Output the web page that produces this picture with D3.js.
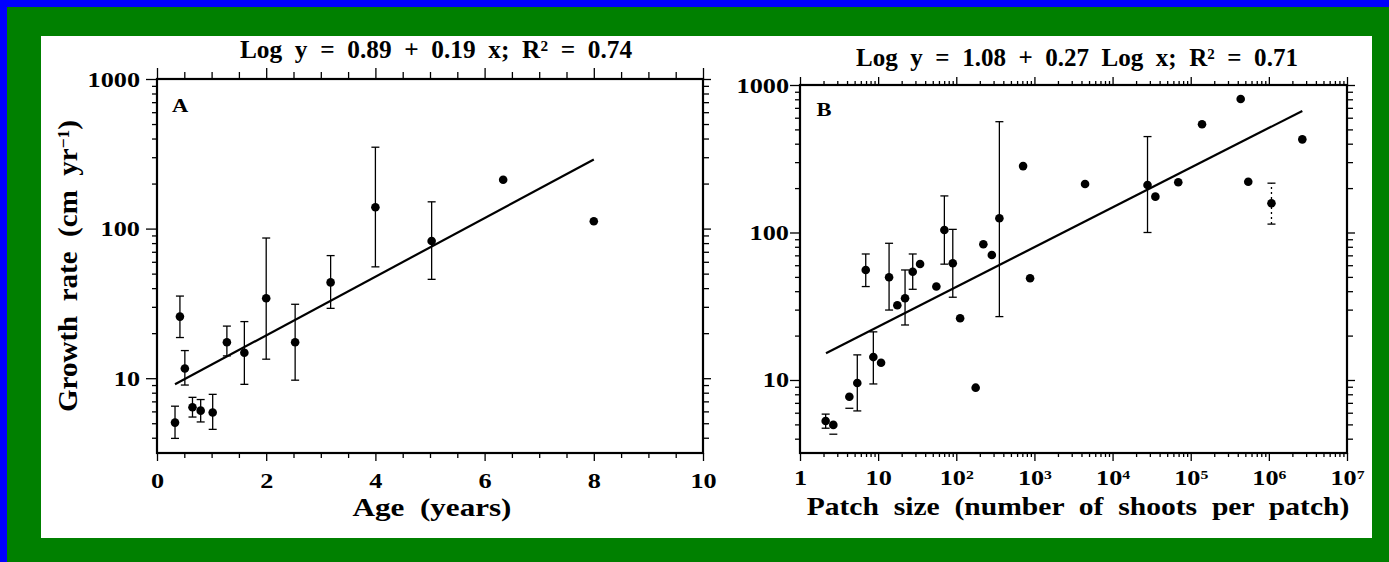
<!DOCTYPE html>
<html>
<head>
<meta charset="utf-8">
<script src="https://cdn.jsdelivr.net/npm/d3@7"></script>
<style>
  body { margin: 0; background: #0000ff; }
  svg { display: block; }
  svg text { font-family: "Liberation Serif", "Times New Roman", Times, serif; font-weight: bold; white-space: pre; }
</style>
</head>
<body>
<svg id="chart" width="1389" height="562"></svg>
<script>
// ---- Panel A: growth rate vs. age ----
const ageYears   = [0.33, 0.42, 0.51, 0.65, 0.80, 1.02, 1.28, 1.60, 2.00, 2.53, 3.18, 4.00, 5.03, 6.34, 8.00];
const ageRate    = [5.05, 25.8, 11.6, 6.4, 6.07, 5.9, 17.4, 14.8, 34.2, 17.4, 43.7, 139, 82.6, 212, 112];
const ageErrLow  = [3.96, 18.7, 9.0, 5.5, 5.1, 4.55, 14.1, 9.1, 13.4, 9.7, 29.3, 55.5, 45.8, null, null];
const ageErrHigh = [6.5, 35.4, 15.3, 7.45, 7.2, 7.8, 22.3, 23.9, 86.5, 31.2, 66, 350, 151, null, null];
const ageFit     = [[0.33, 9.1], [8.0, 290]];
const ageTicks   = [0, 2, 4, 6, 8, 10];

// ---- Panel B: growth rate vs. patch size ----
const patchSize = [2.13, 2.67, 4.28, 5.41, 8.68, 10.9, 6.94, 13.8, 17.6, 22.1, 27.7, 34.4, 55.6, 70.4, 90.2,
                   112, 177, 222, 285, 356, 716, 880, 4446, 28000, 35300, 69300, 139600, 436000, 545000, 1.08e6, 2.68e6];
const patchRate = [5.27, 4.96, 7.7, 9.55, 14.3, 13.1, 55.7, 49.7, 32.1, 35.8, 54.2, 61.1, 43, 104, 61.8,
                   26.2, 8.87, 83.2, 70.3, 125, 282, 49, 213, 210, 175, 219, 542, 804, 221, 158, 428];
const patchErrLow  = [4.71, 4.29, 6.43, 6.17, 9.4, null, 43, 29.8, null, 23.6, 41.2, null, null, 61, 36.4,
                      null, null, null, null, 26.9, null, null, null, 100, null, null, null, null, null, null, null];
const patchErrHigh = [5.87, null, null, 14.8, 21.2, null, 71.5, 84.5, null, 55.7, 71.5, null, null, 177, 105,
                      null, null, null, null, 564, null, null, null, 447, null, null, null, null, null, null, null];
// range shown only as a dotted bar
const patchRangeSize = [1.08e6];
const patchRangeLow  = [114];
const patchRangeHigh = [216];
const patchFit   = [[2.15, 15.2], [2.68e6, 667]];
const patchTicks = [1, 10, 100, 1e3, 1e4, 1e5, 1e6, 1e7];

const rateTicks = [10, 100, 1000];

const svg = d3.select('#chart');
const W = 1389, H = 562;

svg.append('rect').attr('width', W).attr('height', H).attr('fill', '#0000ff');
svg.append('rect').attr('x', 7).attr('y', 7).attr('width', W - 7).attr('height', H - 7).attr('fill', '#008000');
svg.append('rect').attr('x', 41).attr('y', 36).attr('width', 1331).attr('height', 502).attr('fill', '#ffffff');

// Bold serif text, widened horizontally; either a fixed stretch or fitted to a width.
function label(parent, x, y, parts, opts) {
  const size = opts.size || 21;
  const anchor = opts.anchor || 'middle';
  const outer = parent.append('g')
    .attr('transform', `translate(${x},${y}) rotate(${opts.rotate || 0})`);
  const inner = outer.append('g');
  const t = inner.append('text')
    .attr('text-anchor', anchor)
    .attr('font-size', size)
    .attr('fill', '#000');
  const rise = size * 0.3;
  let back = 0;
  parts.forEach(p => {
    const [s, kind] = Array.isArray(p) ? p : [p, null];
    if (kind === 'sup') {
      t.append('tspan').attr('font-size', size * 0.6).attr('dy', -rise).text(s);
      back = rise;
    } else {
      t.append('tspan').attr('dy', back || null).text(s);
      back = 0;
    }
  });
  let s = opts.stretch || 1.25;
  if (opts.width) s = opts.width / t.node().getBBox().width;
  inner.attr('transform', `scale(${s},1)`);
  return outer;
}

const isPow10 = v => Math.abs(Math.log10(v) - Math.round(Math.log10(v))) < 1e-9;

function axis(parent, orient, scale, values, size, tr, labeler) {
  const make = { bottom: d3.axisBottom, top: d3.axisTop, left: d3.axisLeft, right: d3.axisRight }[orient];
  const gen = make(scale).tickValues(values).tickSizeInner(size).tickSizeOuter(0).tickFormat('');
  const g = parent.append('g').attr('transform', `translate(${tr[0]},${tr[1]})`).call(gen);
  g.select('.domain').remove();
  g.selectAll('.tick line').attr('stroke', '#000').attr('stroke-width', 1.3);
  g.selectAll('.tick text').remove();
  if (labeler) g.selectAll('.tick').each(function (d) { labeler(d3.select(this), d); });
  return g;
}

function errorBars(g, xs, lows, highs, xScale, yScale, dotted) {
  xs.forEach((xv, i) => {
    const lo = lows[i], hi = highs[i];
    if (lo == null && hi == null) return;
    const x = xScale(xv);
    const y0 = yScale(lo != null ? lo : hi);
    const y1 = yScale(hi != null ? hi : lo);
    g.append('line').attr('x1', x).attr('x2', x).attr('y1', y0).attr('y2', y1)
      .attr('stroke', '#000').attr('stroke-width', 1.3)
      .attr('stroke-dasharray', dotted ? '2,3' : null);
    [lo, hi].forEach(v => {
      if (v == null) return;
      g.append('line').attr('x1', x - 4).attr('x2', x + 4).attr('y1', yScale(v)).attr('y2', yScale(v))
        .attr('stroke', '#000').attr('stroke-width', 1.3);
    });
  });
}

// ================= Panel A =================
const xA = d3.scaleLinear().domain([0, 10]).range([157, 703]);
const yA = d3.scaleLog().domain([Math.sqrt(10), 1000]).range([453, 79]);
const gA = svg.append('g');
const ageMinor = d3.range(0, 10.01, 0.5).filter(v => v % 2 !== 0);
const rateMinorA = yA.ticks().filter(v => !isPow10(v));

axis(gA, 'bottom', xA, ageMinor, 5, [0, 453]);
axis(gA, 'bottom', xA, ageTicks, 8, [0, 453], (t, d) => label(t, 0, 35, [String(d)], { size: 21 }));
axis(gA, 'top', xA, ageMinor, 7, [0, 79]);
axis(gA, 'top', xA, ageTicks, 11, [0, 79]);
axis(gA, 'left', yA, rateMinorA, 5, [157, 0]);
axis(gA, 'left', yA, rateTicks, 11, [157, 0], (t, d) => label(t, -17, 7, [String(d)], { size: 21, anchor: 'end' }));
axis(gA, 'right', yA, rateMinorA, 6, [703, 0]);
axis(gA, 'right', yA, rateTicks, 8, [703, 0]);

gA.append('rect').attr('x', 157).attr('y', 79).attr('width', 546).attr('height', 374)
  .attr('fill', 'none').attr('stroke', '#000').attr('stroke-width', 2.2);

errorBars(gA, ageYears, ageErrLow, ageErrHigh, xA, yA, false);
gA.append('path').datum(ageFit)
  .attr('d', d3.line().x(d => xA(d[0])).y(d => yA(d[1])))
  .attr('fill', 'none').attr('stroke', '#000').attr('stroke-width', 2.2);
gA.selectAll('circle').data(ageYears).join('circle')
  .attr('cx', d => xA(d)).attr('cy', (d, i) => yA(ageRate[i])).attr('r', 4.3).attr('fill', '#000');

label(gA, 436, 58, ['Log  y  =  0.89  +  0.19  x;  R', ['2', 'sup'], '  =  0.74'], { size: 25, width: 393 });
label(gA, 180, 112, ['A'], { size: 18 });
label(gA, 432, 516, ['Age  (years)'], { size: 25, width: 159 });
label(gA, 77, 266, ['Growth  rate  (cm  yr', ['\u22121', 'sup'], ')'], { size: 28, rotate: -90, width: 292 });

// ================= Panel B =================
const xB = d3.scaleLog().domain([1, 1e7]).range([800, 1347]);
const yB = d3.scaleLog().domain([Math.pow(10, 0.505), 1000]).range([453, 85]);
const gB = svg.append('g');
const patchMinor = xB.ticks().filter(v => !isPow10(v));
const rateMinorB = yB.ticks().filter(v => !isPow10(v));

const patchLabel = d => {
  const e = Math.round(Math.log10(d));
  if (e === 0) return ['1'];
  if (e === 1) return ['10'];
  return ['10', [String(e), 'sup']];
};

axis(gB, 'bottom', xB, patchMinor, 4, [0, 453]);
axis(gB, 'bottom', xB, patchTicks, 8, [0, 453], (t, d) => label(t, 0, 32, patchLabel(d), { size: 21 }));
axis(gB, 'top', xB, patchMinor, 4, [0, 85]);
axis(gB, 'top', xB, patchTicks, 8, [0, 85]);
axis(gB, 'left', yB, rateMinorB, 5, [800, 0]);
axis(gB, 'left', yB, rateTicks, 10, [800, 0], (t, d) => label(t, -11, 7, [String(d)], { size: 21, anchor: 'end' }));
axis(gB, 'right', yB, rateMinorB, 6, [1347, 0]);
axis(gB, 'right', yB, rateTicks, 8, [1347, 0]);

gB.append('rect').attr('x', 800).attr('y', 85).attr('width', 547).attr('height', 368)
  .attr('fill', 'none').attr('stroke', '#000').attr('stroke-width', 2.2);

errorBars(gB, patchSize, patchErrLow, patchErrHigh, xB, yB, false);
errorBars(gB, patchRangeSize, patchRangeLow, patchRangeHigh, xB, yB, true);
gB.append('path').datum(patchFit)
  .attr('d', d3.line().x(d => xB(d[0])).y(d => yB(d[1])))
  .attr('fill', 'none').attr('stroke', '#000').attr('stroke-width', 2.2);
gB.selectAll('circle').data(patchSize).join('circle')
  .attr('cx', d => xB(d)).attr('cy', (d, i) => yB(patchRate[i])).attr('r', 4.3).attr('fill', '#000');

label(gB, 1077, 66, ['Log  y  =  1.08  +  0.27  Log  x;  R', ['2', 'sup'], '  =  0.71'], { size: 25, width: 442 });
label(gB, 824, 116, ['B'], { size: 18 });
label(gB, 1078, 515, ['Patch  size  (number  of  shoots  per  patch)'], { size: 25, width: 543 });
</script>
</body>
</html>
